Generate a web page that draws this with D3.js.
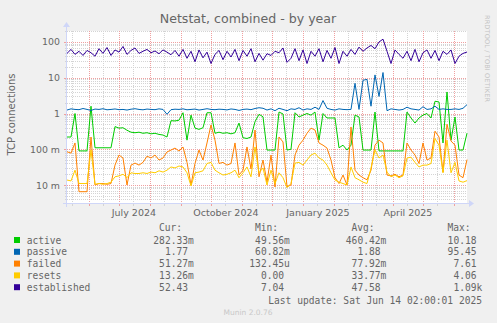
<!DOCTYPE html>
<html><head><meta charset="utf-8">
<script src="https://cdn.jsdelivr.net/npm/d3@7"></script>
<style>
body{margin:0;background:#f0f0f0;}
svg{display:block;}
text{font-family:"DejaVu Sans",sans-serif;fill:#666;}
text.mono{font-family:"DejaVu Sans Mono",monospace;}
</style></head><body>
<svg id="chart" width="497" height="323"></svg>
<script>
// Samples every 4 days, from 400 days before the last update
const startDate = new Date(2024, 4, 10, 2, 0, 1);
const endDate = new Date(2025, 5, 14, 2, 0, 1);
const stepDays = 4;

const active = [0.22,0.22,1.0,0.09,0.09,0.09,1.6,0.11,0.11,0.11,
  0.11,0.11,0.43,0.39,0.40,0.34,0.30,0.29,0.30,0.28,
  0.29,0.27,0.28,0.26,0.25,0.22,0.63,0.62,0.65,1.05,
  0.18,0.9,0.39,0.36,0.40,1.05,1.05,0.28,0.30,0.28,
  0.29,0.27,0.29,0.54,0.21,0.20,0.22,0.59,0.95,0.81,
  0.095,0.095,0.095,1.1,0.97,0.095,0.1,1.05,0.8,0.9,
  1.0,0.9,1.1,0.18,1.0,0.75,0.75,0.75,0.11,0.13,
  0.095,0.13,0.9,0.8,0.095,0.095,0.095,1.1,0.09,0.09,
  0.09,0.09,0.09,0.09,0.09,1.1,0.75,0.54,0.75,0.9,
  1.0,0.75,2.2,2.1,0.15,4.0,0.18,0.8,0.095,0.095,
  0.2823];

const passive = [1.25,1.35,1.3,1.28,1.38,1.3,1.22,1.33,1.3,1.36,
  1.27,1.3,1.34,1.28,1.3,1.25,1.32,1.36,1.3,1.27,
  1.33,1.3,1.28,1.35,1.3,0.95,1.28,1.32,1.3,1.35,
  1.27,1.3,1.33,1.25,1.3,1.36,1.3,1.28,1.32,1.3,
  1.26,1.34,1.3,1.22,1.3,1.33,1.28,1.38,1.45,1.4,
  1.25,1.35,1.2,1.4,1.3,1.2,1.35,1.3,1.45,1.25,
  1.35,1.3,1.5,1.3,2.3,1.4,1.3,1.25,1.35,1.3,
  1.28,1.3,7,1.3,8.5,9,1.6,12,3,14,
  1.2,1.35,1.3,1.25,1.3,1.5,1.35,1.3,1.25,1.55,
  1.3,1.35,1.6,1.3,1.35,1.3,1.3,1.35,1.3,1.4,
  1.77];

const failed = [0.085,0.078,0.15,0.0065,0.0065,0.0065,0.22,0.010,0.011,0.011,
  0.0105,0.011,0.036,0.069,0.057,0.010,0.036,0.041,0.036,0.043,
  0.064,0.057,0.069,0.05,0.057,0.084,0.095,0.108,0.089,0.116,
  0.043,0.010,0.04,0.095,0.05,0.15,0.48,0.18,0.04,0.043,
  0.036,0.04,0.15,0.019,0.026,0.116,0.028,0.345,0.017,0.05,
  0.012,0.069,0.0088,0.22,0.16,0.009,0.010,0.069,0.13,0.18,
  0.28,0.39,0.345,0.15,0.13,0.108,0.05,0.016,0.011,0.019,
  0.010,0.42,0.026,0.019,0.016,0.014,0.026,0.13,0.18,0.15,
  0.019,0.018,0.020,0.017,0.019,0.15,0.095,0.069,0.04,0.15,
  0.05,0.057,0.32,0.22,0.023,0.5,0.17,0.13,0.019,0.016,
  0.05127];

const resets = [0.0138,0.013,0.026,0.011,0.011,0.011,0.095,0.0105,0.011,0.0105,
  0.011,0.012,0.017,0.018,0.020,0.016,0.022,0.021,0.021,0.022,
  0.021,0.023,0.022,0.025,0.023,0.026,0.032,0.03,0.034,0.032,
  0.022,0.0094,0.022,0.023,0.025,0.04,0.043,0.026,0.022,0.019,
  0.02,0.022,0.026,0.016,0.022,0.032,0.017,0.116,0.022,0.030,
  0.010,0.026,0.011,0.022,0.016,0.0085,0.011,0.041,0.043,0.036,
  0.05,0.069,0.078,0.057,0.05,0.036,0.022,0.0138,0.012,0.011,
  0.010,0.032,0.016,0.014,0.012,0.011,0.030,0.095,0.057,0.069,
  0.023,0.017,0.019,0.016,0.018,0.057,0.06,0.043,0.032,0.036,
  0.036,0.04,0.2,0.13,0.022,0.18,0.022,0.043,0.013,0.012,
  0.01326];

const established = [48,62,45,55,42,58,50,40,65,48,
  70,42,60,52,75,45,58,68,48,55,
  62,50,56,47,60,52,44,58,40,62,
  35,55,28,60,36,52,25,45,58,32,
  55,38,62,30,58,40,65,28,48,31,
  47,42,55,50,68,27,35,65,30,60,
  25,55,40,65,28,58,35,70,25,55,
  40,62,45,72,55,68,80,65,100,120,
  55,25,60,45,35,55,30,62,28,50,
  60,35,58,30,55,45,60,25,40,48,
  52.43];

const seriesNames = ["active","passive","failed","resets","established"];
const seriesColors = ["#00cc00","#0066b3","#ff8000","#ffcc00","#330099"];
const curValues = ["282.33m","1.77","51.27m","13.26m","52.43"];
const minValues = ["49.56m","60.82m","132.45u","0.00","7.04"];
const avgValues = ["460.42m","1.88","77.92m","33.77m","47.58"];
const maxValues = ["10.18","95.45","7.61","4.06","1.09k"];
const columnHeads = ["Cur:","Min:","Avg:","Max:"];

const yTickValues = [0.01, 0.1, 1, 10, 100];
const yTickLabels = ["10 m","100 m","1","10","100"];
const xLabelMonths = [new Date(2024,6,1), new Date(2024,9,1), new Date(2025,0,1), new Date(2025,3,1)];
const xLabelTexts = ["July 2024","October 2024","January 2025","April 2025"];

const titleText = "Netstat, combined - by year";
const yAxisTitle = "TCP connections";
const lastUpdate = "Last update: Sat Jun 14 02:00:01 2025";

const svg = d3.select("#chart");
const L = 67, R = 467, T = 31, B = 203;

const x = d3.scaleTime().domain([startDate, endDate]).range([L, R]);
const y = d3.scaleLog().domain([3.14e-3, 203]).range([B, T]);

// canvas
svg.append("rect").attr("x", L).attr("y", T).attr("width", R - L).attr("height", B - T).attr("fill", "#fff");

const grid = svg.append("g").attr("shape-rendering", "crispEdges");
const px = v => Math.round(v) + 0.5;

// horizontal minor grid (2..9 per decade), then decades
for (let k = -3; k <= 2; k++) {
  for (let m = 2; m <= 9; m++) {
    const v = m * Math.pow(10, k);
    if (v < y.domain()[0] || v > y.domain()[1]) continue;
    grid.append("line").attr("x1", L).attr("x2", R).attr("y1", px(y(v))).attr("y2", px(y(v)))
      .attr("stroke", "#d4d4d4").attr("stroke-dasharray", "1,1");
    grid.append("line").attr("x1", L - 2).attr("x2", L).attr("y1", px(y(v))).attr("y2", px(y(v)))
      .attr("stroke", "#d4d4d4");
  }
}
// top border of canvas as dotted line
grid.append("line").attr("x1", L).attr("x2", R).attr("y1", T + 0.5).attr("y2", T + 0.5)
  .attr("stroke", "#d4d4d4").attr("stroke-dasharray", "1,1");

// vertical minor grid: mid-month
const minorDates = d3.timeMonth.range(d3.timeMonth.floor(startDate), endDate)
  .map(d => new Date(d.getFullYear(), d.getMonth(), 15))
  .filter(d => d > startDate && d < endDate);
minorDates.forEach(d => {
  grid.append("line").attr("x1", px(x(d))).attr("x2", px(x(d))).attr("y1", T).attr("y2", B)
    .attr("stroke", "#d4d4d4").attr("stroke-dasharray", "1,1");
  grid.append("line").attr("x1", px(x(d))).attr("x2", px(x(d))).attr("y1", B).attr("y2", B + 3)
    .attr("stroke", "#d4d4d4");
});
const majorDates = d3.timeMonth.range(startDate, endDate);
majorDates.forEach(d => {
  grid.append("line").attr("x1", px(x(d))).attr("x2", px(x(d))).attr("y1", T).attr("y2", B)
    .attr("stroke", "#f0a0a0").attr("stroke-dasharray", "1,1");
  grid.append("line").attr("x1", px(x(d))).attr("x2", px(x(d))).attr("y1", B).attr("y2", B + 3)
    .attr("stroke", "#f0a0a0");
});
yTickValues.forEach(v => {
  grid.append("line").attr("x1", L).attr("x2", R).attr("y1", px(y(v))).attr("y2", px(y(v)))
    .attr("stroke", "#f0a0a0").attr("stroke-dasharray", "1,1");
  grid.append("line").attr("x1", L - 3).attr("x2", L).attr("y1", px(y(v))).attr("y2", px(y(v)))
    .attr("stroke", "#f0a0a0");
});

// series
const allSeries = [active, passive, failed, resets, established];
const line = d3.line()
  .x((d, i) => x(d3.timeDay.offset(startDate, i * stepDays)))
  .y(d => y(d));
allSeries.forEach((vals, s) => {
  svg.append("path").attr("d", line(vals)).attr("fill", "none")
    .attr("stroke", seriesColors[s]).attr("stroke-width", 1).attr("stroke-linejoin", "round");
});

// axes with arrows
const axisColor = "#cfd6f8";
svg.append("line").attr("x1", L - 4).attr("x2", R + 2).attr("y1", B + 0.5).attr("y2", B + 0.5)
  .attr("stroke", axisColor);
svg.append("path").attr("d", `M${R + 2},${B - 3} L${R + 7},${B + 0.5} L${R + 2},${B + 4} Z`).attr("fill", axisColor);
svg.append("line").attr("x1", L - 0.5).attr("x2", L - 0.5).attr("y1", B + 4).attr("y2", T - 4)
  .attr("stroke", axisColor);
svg.append("path").attr("d", `M${L - 4},${T - 4} L${L - 0.5},${T - 9} L${L + 3},${T - 4} Z`).attr("fill", axisColor);

// y tick labels
svg.selectAll("text.ytick").data(yTickValues).join("text").attr("class", "ytick")
  .attr("x", 60).attr("y", d => y(d) + 3.5).attr("text-anchor", "end")
  .attr("font-size", 9.4).text((d, i) => yTickLabels[i]);

// x labels, centred half a month after the month start
svg.selectAll("text.xlab").data(xLabelMonths).join("text").attr("class", "xlab")
  .attr("x", d => x(d3.timeDay.offset(d, 15))).attr("y", 216).attr("text-anchor", "middle")
  .attr("font-size", 9.5).text((d, i) => xLabelTexts[i]);

// title and axis title
svg.append("text").attr("x", 248).attr("y", 23).attr("text-anchor", "middle")
  .attr("font-size", 12.6).text(titleText);
svg.append("text").attr("transform", "translate(14.5,114.5) rotate(-90)").attr("text-anchor", "middle")
  .attr("font-size", 10).text(yAxisTitle);
svg.append("text").attr("transform", "translate(484.5,15) rotate(90)").attr("font-size", 6.5)
  .attr("textLength", 87).style("fill", "#c4c4c4").text("RRDTOOL / TOBI OETIKER");

// legend
const colEnds = [188, 284, 380.5, 476.5];
const lg = svg.append("g").attr("font-size", 9.6);
columnHeads.forEach((h, c) => {
  lg.append("text").attr("class", "mono").attr("x", colEnds[c] - 6).attr("y", 231)
    .attr("text-anchor", "end").text(h);
});
const columns = [curValues, minValues, avgValues, maxValues];
seriesNames.forEach((name, s) => {
  const cy = 240 + s * 11.8;
  lg.append("rect").attr("x", 14).attr("y", cy - 3).attr("width", 6).attr("height", 6)
    .attr("fill", seriesColors[s]);
  lg.append("text").attr("class", "mono").attr("x", 26.7).attr("y", cy + 3.5).text(name);
  columns.forEach((col, c) => {
    const m = col[s].match(/^([-\d.]+)(\D?)$/);
    lg.append("text").attr("class", "mono").attr("x", colEnds[c]).attr("y", cy + 3.5)
      .attr("text-anchor", "end").text(m[1]);
    if (m[2]) lg.append("text").attr("class", "mono").attr("x", colEnds[c]).attr("y", cy + 3.5).text(m[2]);
  });
});
lg.append("text").attr("class", "mono").attr("x", 482).attr("y", 303.5)
  .attr("text-anchor", "end").text(lastUpdate);
svg.append("text").attr("x", 248).attr("y", 315).attr("text-anchor", "middle")
  .attr("font-size", 7.5).style("fill", "#c8c8c8").text("Munin 2.0.76");
</script>
</body></html>
